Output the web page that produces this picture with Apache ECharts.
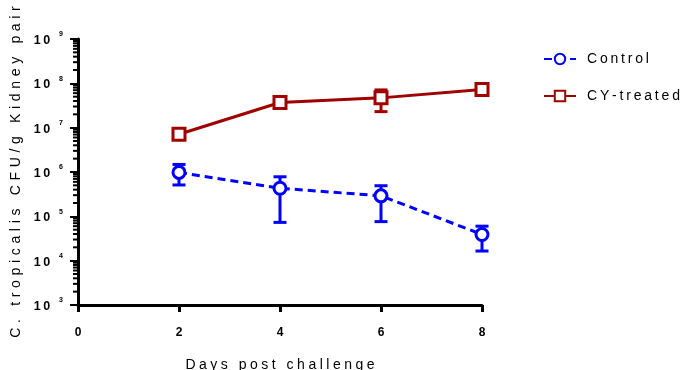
<!DOCTYPE html>
<html>
<head>
<meta charset="utf-8">
<script src="https://cdn.jsdelivr.net/npm/echarts@6/dist/echarts.min.js"></script>
<style>html,body{margin:0;padding:0;background:#fff;}#c{width:690px;height:370px;}</style>
</head>
<body>
<div id="c"></div>
<script>
// ---- data ----
var days = [2, 4, 6, 8];
var controlMean = [9.8e5, 4.3e5, 2.9e5, 3.9e4];
var controlLow  = [5.1e5, 7.3e4, 7.6e4, 1.65e4];
var controlHigh = [1.48e6, 7.8e5, 4.9e5, 6.0e4];
var cyMean = [7.1e6, 3.7e7, 4.7e7, 7.3e7];
var cyLow  = [6.3e6, 3.2e7, 2.3e7, 5.5e7];
var cyHigh = [8.0e6, 4.3e7, 7.1e7, 9.1e7];
var xTicks = [0, 2, 4, 6, 8];
var yExponents = [3, 4, 5, 6, 7, 8, 9];
var seriesNames = ['Control', 'CY-treated'];
var xTitle = 'Days post challenge';
var yTitle = 'C. tropicalis CFU/g Kidney pair';

var BLUE = '#0000FF', RED = '#A00000';
var FONT = 'Liberation Sans, Arial, sans-serif';
function spaced(s, sep) { return s.split('').join(sep); }

function pairs(xs, ys) { return xs.map(function (x, i) { return [x, ys[i]]; }); }
function errData(xs, lo, hi) { return xs.map(function (x, i) { return [x, lo[i], hi[i]]; }); }

// minor tick values of the log axis (axis decoration)
var minorVals = [];
for (var e = yExponents[0]; e < yExponents[yExponents.length - 1]; e++) {
  for (var k = 2; k <= 9; k++) minorVals.push(k * Math.pow(10, e));
}

function errRender(color) {
  return function (params, api) {
    var x = api.value(0);
    var lo = api.coord([x, api.value(1)]);
    var hi = api.coord([x, api.value(2)]);
    var w = 6.5;
    var st = { stroke: color, lineWidth: 3 };
    return {
      type: 'group',
      children: [
        { type: 'line', shape: { x1: lo[0], y1: lo[1], x2: hi[0], y2: hi[1] }, style: st },
        { type: 'line', shape: { x1: lo[0] - w, y1: lo[1], x2: lo[0] + w, y2: lo[1] }, style: st },
        { type: 'line', shape: { x1: hi[0] - w, y1: hi[1], x2: hi[0] + w, y2: hi[1] }, style: st }
      ]
    };
  };
}

var chart = echarts.init(document.getElementById('c'), null, { renderer: 'canvas' });
chart.setOption({
  animation: false,
  backgroundColor: '#fff',
  textStyle: { fontFamily: FONT },
  grid: { left: 78, right: 208, top: 39, bottom: 65, containLabel: false, outerBoundsMode: 'none' },
  legend: {
    orient: 'vertical',
    left: 538, top: 47,
    itemWidth: 32, itemHeight: 13, itemGap: 23,
    data: seriesNames,
    formatter: function (n) { return spaced(n, '\u2009'); },
    textStyle: { fontSize: 14, color: '#000', fontFamily: FONT, padding: [0, 0, 0, 6] }
  },
  xAxis: {
    type: 'value', min: 0, max: 8, interval: 2,
    name: spaced(xTitle, '\u2005'), nameLocation: 'middle', nameGap: 53,
    nameTextStyle: { fontSize: 14, color: '#000', fontFamily: FONT },
    axisLine: { show: true, lineStyle: { color: '#000', width: 3 } },
    axisTick: { show: true, length: 7, lineStyle: { color: '#000', width: 3 } },
    axisLabel: { fontSize: 12, fontWeight: 'bold', color: '#000', margin: 22,
      formatter: function (v) { return xTicks.indexOf(v) >= 0 ? String(v) : ''; } },
    splitLine: { show: false }
  },
  yAxis: {
    type: 'log', logBase: 10, min: Math.pow(10, yExponents[0]), max: Math.pow(10, yExponents[yExponents.length - 1]),
    name: spaced(yTitle, '\u2004'), nameLocation: 'middle', nameGap: 51, nameRotate: 90,
    nameTextStyle: { fontSize: 14, color: '#000', fontFamily: FONT },
    axisLine: { show: true, lineStyle: { color: '#000', width: 3 } },
    axisTick: { show: true, length: 8, lineStyle: { color: '#000', width: 2 } },
    axisLabel: {
      margin: 15, color: '#000',
      formatter: function (v) {
        var ex = Math.round(Math.log(v) / Math.LN10);
        return '{b|1\u20090}{s|' + ex + '}';
      },
      rich: {
        b: { fontSize: 12.5, fontWeight: 'bold', color: '#000', fontFamily: FONT, lineHeight: 16, verticalAlign: 'bottom' },
        s: { fontSize: 7, fontWeight: 'bold', color: '#000', fontFamily: FONT, lineHeight: 16, verticalAlign: 'top', padding: [0, 0, 5, 9] }
      }
    },
    splitLine: { show: false }
  },
  series: [
    {
      name: 'minorTicks', type: 'custom', silent: true, clip: false, z: 1,
      data: minorVals.map(function (v) { return [0, v]; }),
      renderItem: function (params, api) {
        var p = api.coord([api.value(0), api.value(1)]);
        return { type: 'line', shape: { x1: p[0] - 5, y1: p[1], x2: p[0], y2: p[1] }, style: { stroke: '#000', lineWidth: 2 } };
      },
      encode: { x: 0, y: 1 }
    },
    {
      name: 'Control-err', type: 'custom', silent: true, z: 2,
      data: errData(days, controlLow, controlHigh),
      renderItem: errRender(BLUE), encode: { x: 0, y: [1, 2] }
    },
    {
      name: 'CY-err', type: 'custom', silent: true, z: 2,
      data: errData(days, cyLow, cyHigh),
      renderItem: errRender(RED), encode: { x: 0, y: [1, 2] }
    },
    {
      name: seriesNames[0], type: 'line', z: 3,
      data: pairs(days, controlMean),
      symbol: 'circle', symbolSize: 12,
      itemStyle: { color: '#fff', borderColor: BLUE, borderWidth: 3 },
      lineStyle: { color: BLUE, width: 3, type: [8, 5] }
    },
    {
      name: seriesNames[1], type: 'line', z: 3,
      data: pairs(days, cyMean),
      symbol: 'rect', symbolSize: 12,
      itemStyle: { color: '#fff', borderColor: RED, borderWidth: 3 },
      lineStyle: { color: RED, width: 3 }
    }
  ]
});
</script>
</body>
</html>
